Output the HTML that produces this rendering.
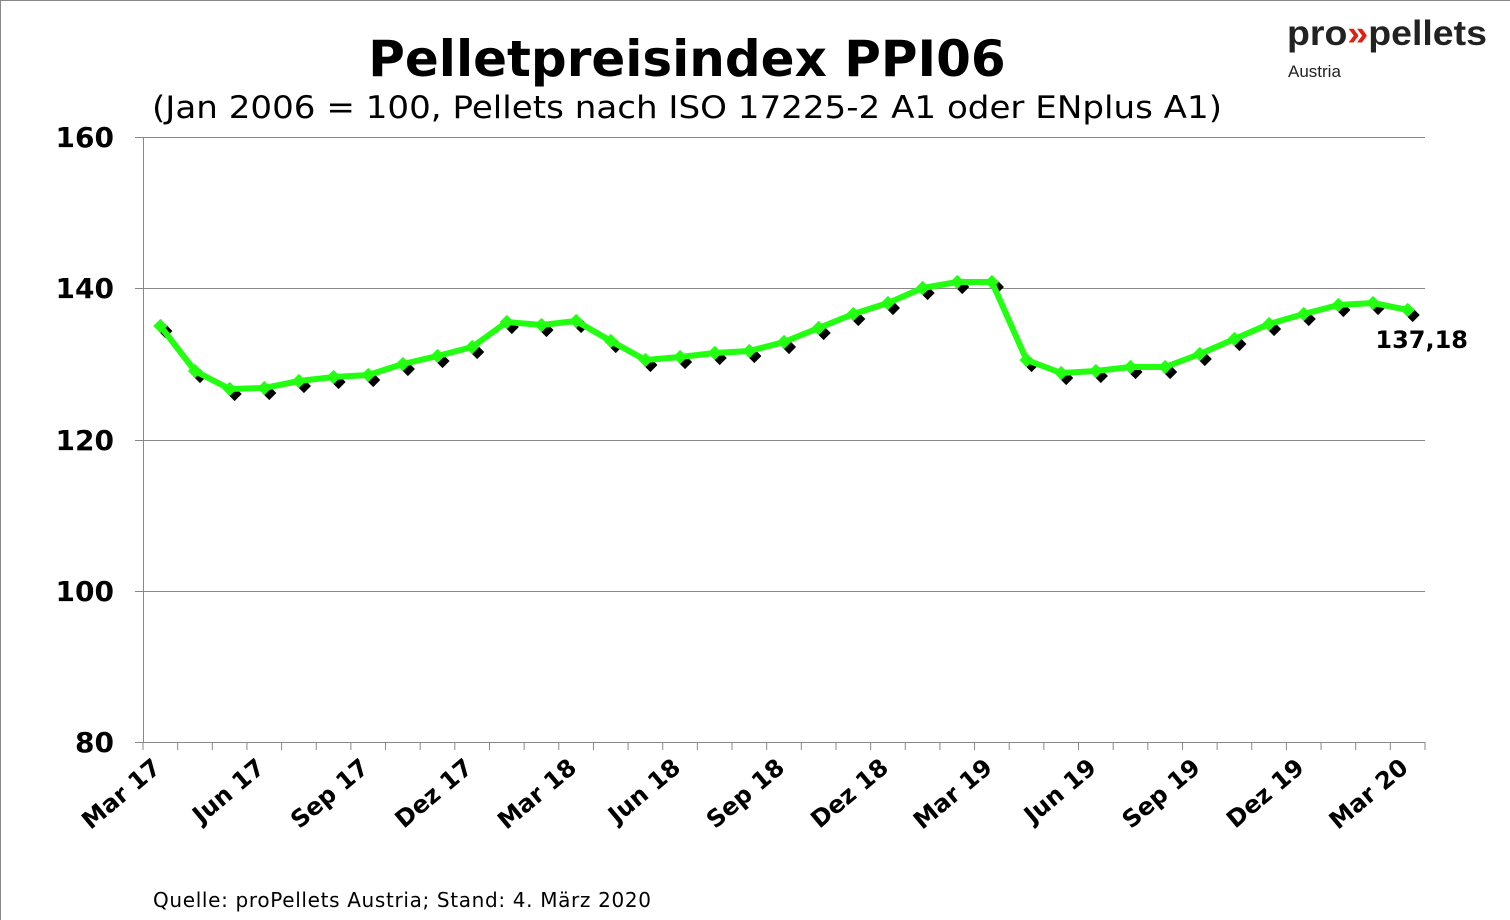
<!DOCTYPE html>
<html><head><meta charset="utf-8"><style>
body{margin:0;background:#fff}
svg{display:block}
text{font-family:"DejaVu Sans","Liberation Sans",sans-serif}
</style></head><body>
<svg width="1510" height="920" viewBox="0 0 1510 920" xmlns="http://www.w3.org/2000/svg">
<rect x="0.5" y="0.5" width="1520" height="930" fill="#fff" stroke="#888"/>
<text x="687" y="76" font-size="50" font-weight="bold" text-anchor="middle">Pelletpreisindex PPI06</text>
<text x="687" y="118" font-size="31" text-anchor="middle" textLength="1070" lengthAdjust="spacingAndGlyphs">(Jan 2006 = 100, Pellets nach ISO 17225-2 A1 oder ENplus A1)</text>
<text x="1287" y="45" font-size="35" font-weight="bold" fill="#222" style="font-family:'Liberation Sans',sans-serif" textLength="200" lengthAdjust="spacingAndGlyphs">pro<tspan fill="#e02010">»</tspan>pellets</text>
<text x="1288" y="77" font-size="17" fill="#222" style="font-family:'Liberation Sans',sans-serif">Austria</text>
<g stroke="#888" stroke-width="1">
<line x1="143" y1="137.5" x2="1425" y2="137.5"/>
<line x1="143" y1="288.5" x2="1425" y2="288.5"/>
<line x1="143" y1="440.5" x2="1425" y2="440.5"/>
<line x1="143" y1="591.5" x2="1425" y2="591.5"/>
<line x1="143" y1="742.5" x2="1425" y2="742.5"/>
<line x1="143.5" y1="137" x2="143.5" y2="742"/>
<line x1="135" y1="137.5" x2="143" y2="137.5"/><line x1="135" y1="288.5" x2="143" y2="288.5"/><line x1="135" y1="440.5" x2="143" y2="440.5"/><line x1="135" y1="591.5" x2="143" y2="591.5"/><line x1="135" y1="742.5" x2="143" y2="742.5"/>
</g>
<g id="ticks" stroke="#888"></g>
<g font-size="28" font-weight="bold" text-anchor="end">
<text x="114" y="147">160</text><text x="114" y="298">140</text><text x="114" y="450">120</text><text x="114" y="601">100</text><text x="114" y="752">80</text>
</g>
<g id="xl" font-size="24" font-weight="bold" text-anchor="end"></g>
<g id="sh"></g>
<polyline id="ln" fill="none" stroke="#22ff11" stroke-width="6" stroke-linejoin="round"/>
<g id="mk"></g>
<text x="1468" y="348" font-size="24" font-weight="bold" text-anchor="end">137,18</text>
<text x="153" y="907" font-size="20" textLength="498" lengthAdjust="spacing">Quelle: proPellets Austria; Stand: 4. März 2020</text>
</svg>
<script>
var ys=[326,371,389,388,381,377,375,364,356,347,322,325,321,341,360,357,353,351,342,328,314,303,288,282,282,360,373,371,367,367,354,339,324,314,305,303,310];
var ns="http://www.w3.org/2000/svg",st=1282/37,pts=[];
function el(t,a,p){var e=document.createElementNS(ns,t);for(var k in a)e.setAttribute(k,a[k]);document.getElementById(p).appendChild(e);return e;}
for(var i=0;i<=37;i++){var x=143+i*st;el("line",{x1:x,y1:742,x2:x,y2:750},"ticks");}
var lab=["Mar 17","Jun 17","Sep 17","Dez 17","Mar 18","Jun 18","Sep 18","Dez 18","Mar 19","Jun 19","Sep 19","Dez 19","Mar 20"];
for(var j=0;j<13;j++){var x=143+(j*3+0.5)*st+2;var t=el("text",{x:x,y:770,transform:"rotate(-40 "+x+" 770)"},"xl");t.textContent=lab[j];}
for(var i=0;i<37;i++){var x=143+(i+0.5)*st,y=ys[i];pts.push(x+","+y);
el("rect",{x:x,y:y,width:10,height:10,fill:"#000",transform:"rotate(45 "+(x+5)+" "+(y+5)+")"},"sh");
el("rect",{x:x-5,y:y-5,width:10,height:10,fill:"#22ff11",transform:"rotate(45 "+x+" "+y+")"},"mk");}
document.getElementById("ln").setAttribute("points",pts.join(" "));
</script>
</body></html>
